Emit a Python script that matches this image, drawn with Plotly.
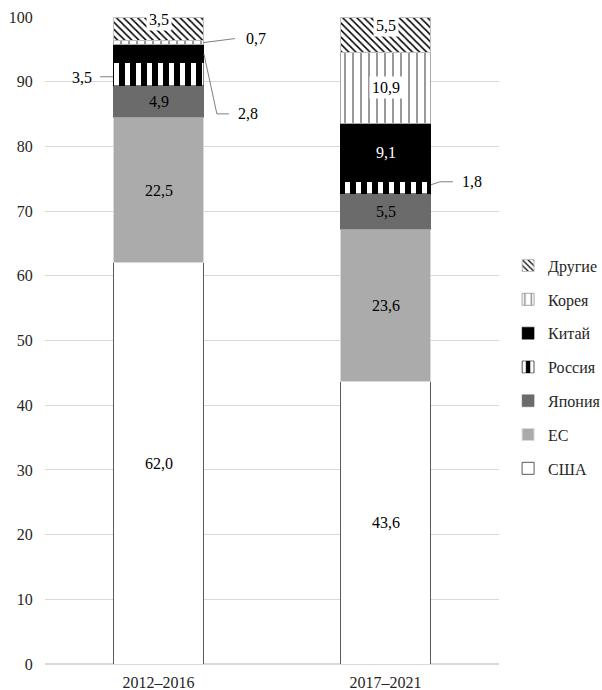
import plotly.graph_objects as go

# Shares by period, stacked from the bottom up
periods = ["2012–2016", "2017–2021"]
series = ["США", "ЕС", "Япония", "Россия", "Китай", "Корея", "Другие"]
usa = [62.0, 43.6]
eu = [22.5, 23.6]
japan = [4.9, 5.5]
russia = [3.5, 1.8]
china = [2.8, 9.1]
korea = [0.7, 10.9]
other = [3.5, 5.5]
values = [usa, eu, japan, russia, china, korea, other]

FONT = "Liberation Serif, Times New Roman, serif"
BARGAP = 0.6
HALF = (1 - BARGAP) / 2

styles = {
    "США": dict(color="white", line=dict(color="#595959", width=1)),
    "ЕС": dict(color="#ababab", line=dict(color="#d9d9d9", width=1)),
    "Япония": dict(color="#6b6b6b", line=dict(color="#6b6b6b", width=0.5)),
    "Россия": dict(color="black", line=dict(color="black", width=0.5),
                   pattern=dict(shape="|", fgcolor="white", bgcolor="black",
                                fgopacity=1, size=11, solidity=0.45)),
    "Китай": dict(color="black", line=dict(color="black", width=0.5)),
    "Корея": dict(color="white", line=dict(color="#a6a6a6", width=1),
                  pattern=dict(shape="|", fgcolor="#808080", bgcolor="white",
                               fgopacity=1, size=8, solidity=0.2)),
    "Другие": dict(color="white", line=dict(color="#bfbfbf", width=1),
                   pattern=dict(shape="\\", fgcolor="black", bgcolor="white",
                                fgopacity=1, size=5, solidity=0.3)),
}

fig = go.Figure()
n = len(series)
for i, name in enumerate(series):
    fig.add_trace(go.Bar(
        x=periods, y=values[i], name=name, legendgroup=name,
        legendrank=n - i, marker=styles[name], hoverinfo="skip",
    ))


def fmt(v):
    return f"{v:.1f}".replace(".", ",")


# Labels placed beside the bar with leader lines:
# (series idx, period idx) -> (side, xshift, yshift, leader path in px)
callouts = {
    (3, 0): (-1, -31, -3, "M0,-2.5 L-13,-2.5"),
    (4, 0): (1, 44, -60, "M0,0 L13,-60 L25,-60"),
    (5, 0): (1, 52, 4, "M0,0 L31,4"),
    (3, 1): (1, 41, 6, "M0,3 L9,6 L22,6"),
}
# Labels with a white backing box and a small upward offset
boxed = {(6, 0): 9, (6, 1): 9, (5, 1): 0}
white_text = {(4, 1)}

annotations = []
shapes = []
for j in range(len(periods)):
    base = 0.0
    for i in range(n):
        v = values[i][j]
        mid = base + v / 2
        base += v
        txt = fmt(v)
        if (i, j) in callouts:
            side, xs, ys, path = callouts[(i, j)]
            edge = j + side * HALF
            annotations.append(dict(
                x=edge, y=mid, xref="x", yref="y", text=txt, showarrow=False,
                xshift=xs, yshift=ys, font=dict(family=FONT, size=16, color="black"),
            ))
            shapes.append(dict(
                type="path", xref="x", yref="y", xsizemode="pixel", ysizemode="pixel",
                xanchor=edge, yanchor=mid, path=path,
                line=dict(color="#7f7f7f", width=1),
            ))
        else:
            ann = dict(
                x=j, y=mid, xref="x", yref="y", text=txt, showarrow=False,
                font=dict(family=FONT, size=16,
                          color="white" if (i, j) in white_text else "black"),
            )
            if (i, j) in boxed:
                ann.update(bgcolor="white", borderpad=2, yshift=boxed[(i, j)])
            annotations.append(ann)

fig.update_layout(
    width=602, height=690,
    margin=dict(l=45, r=103, t=17, b=26, autoexpand=False),
    paper_bgcolor="white", plot_bgcolor="white",
    barmode="stack", bargap=BARGAP,
    font=dict(family=FONT, size=16, color="#262626"),
    showlegend=True,
    legend=dict(
        x=1.02, xanchor="left", y=0.642, yanchor="top",
        traceorder="grouped", tracegroupgap=10,
        itemwidth=30, font=dict(family=FONT, size=16, color="#262626"),
        bgcolor="rgba(0,0,0,0)",
    ),
    annotations=annotations,
    shapes=shapes,
)
fig.update_xaxes(
    showgrid=False, showline=False, zeroline=False,
    ticks="outside", ticklen=4, tickcolor="rgba(0,0,0,0)",
    tickfont=dict(family=FONT, size=16, color="#262626"),
)
fig.update_yaxes(
    range=[0, 100], dtick=10, showgrid=True, gridcolor="#d9d9d9", gridwidth=1,
    zeroline=True, zerolinecolor="#d9d9d9", zerolinewidth=1.5, showline=False,
    ticks="outside", ticklen=8, tickcolor="rgba(0,0,0,0)",
    tickfont=dict(family=FONT, size=16, color="#262626"),
)

fig.write_html("out.html")
